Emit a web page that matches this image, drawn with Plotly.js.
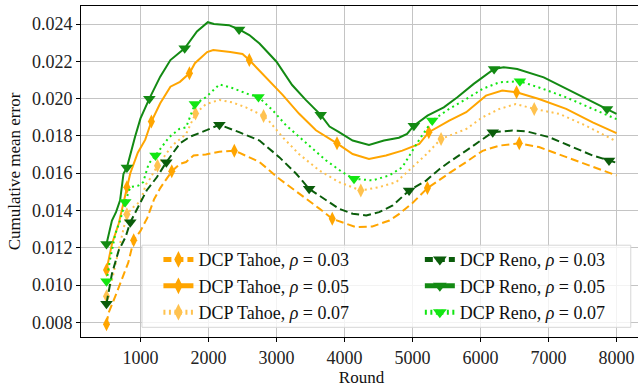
<!DOCTYPE html>
<html>
<head>
<meta charset="utf-8">
<script src="https://cdn.plot.ly/plotly-3.0.1.min.js"></script>
<style>
html,body{margin:0;padding:0;overflow:hidden;background:#fff;}
#chart{width:647px;height:391px;}
</style>
</head>
<body>
<div id="chart"></div>
<script>
// ---- data ----
const tahoe03X = [500,530,630,730,820,900,1000,1100,1200,1290,1460,1580,1670,1780,1960,2160,2380,2450,2750,3040,3190,3330,3530,3630,3820,4020,4170,4410,4660,4800,4900,5000,5220,5390,5540,5790,6030,6280,6570,6860,7260,7650,8000];
const tahoe03Y = [0.0079,0.0085,0.0094,0.0103,0.0112,0.0124,0.0129,0.0136,0.0146,0.0152,0.0161,0.0165,0.0166,0.01695,0.0170,0.01715,0.0172,0.0171,0.0166,0.0157,0.0153,0.0149,0.0144,0.0141,0.01355,0.0133,0.0131,0.01314,0.01346,0.0138,0.01409,0.0144,0.0152,0.0156,0.0160,0.0166,0.0172,0.01748,0.0176,0.0174,0.01686,0.01632,0.01588];
const tahoe03Marks = [500,900,1460,2380,3820,5220,6570];

const tahoe05X = [500,580,680,800,850,960,1070,1160,1290,1440,1580,1720,1800,1980,2070,2320,2500,2600,2840,3090,3330,3580,3890,4120,4360,4610,4850,5100,5240,5540,5790,6080,6320,6530,6860,7260,7650,8000];
const tahoe05Y = [0.0108,0.0122,0.0133,0.01525,0.0160,0.0171,0.0178,0.01877,0.01975,0.02064,0.0209,0.02136,0.0219,0.0225,0.02261,0.0225,0.0224,0.02207,0.02118,0.0202,0.0192,0.0183,0.0176,0.01703,0.01676,0.01695,0.01721,0.01757,0.0182,0.01882,0.01927,0.02016,0.02043,0.02034,0.01998,0.01945,0.01873,0.01815];
const tahoe05Marks = [500,800,1160,1720,2600,3890,5240,6530];

const tahoe07X = [500,580,680,800,900,1000,1080,1140,1250,1470,1670,1810,1960,2160,2350,2550,2810,2890,3090,3330,3630,3920,4240,4510,4760,5000,5200,5420,5790,6030,6280,6520,6790,7160,7550,8000];
const tahoe07Y = [0.0094,0.01025,0.0119,0.0138,0.0142,0.0145,0.0154,0.0157,0.0164,0.0175,0.0181,0.0192,0.0197,0.01993,0.0198,0.01953,0.01907,0.0188,0.01793,0.01703,0.01614,0.01552,0.01507,0.01525,0.01552,0.0163,0.0170,0.01784,0.01837,0.019,0.01945,0.01971,0.01945,0.01918,0.01855,0.0177];
const tahoe07Marks = [500,800,1250,1810,2810,4240,5420,6790];

const reno03X = [500,580,680,780,850,970,1090,1240,1380,1580,1730,1980,2160,2450,2750,3040,3290,3480,3730,3920,4120,4320,4510,4710,4950,5200,5390,5540,5790,6030,6180,6470,6670,7010,7350,7650,7890,8000];
const reno03Y = [0.0090,0.0106,0.01186,0.01257,0.01337,0.01418,0.01507,0.01578,0.01659,0.0176,0.01796,0.01832,0.0186,0.0182,0.01775,0.01686,0.01597,0.01516,0.01454,0.01409,0.01382,0.01373,0.01391,0.01427,0.01507,0.0156,0.0162,0.0166,0.01721,0.01784,0.0182,0.01829,0.01825,0.01793,0.01739,0.01695,0.01668,0.01656];
const reno03Marks = [500,850,1380,2160,3480,4950,6180,7890];

const reno05X = [500,580,640,700,750,800,920,1000,1130,1290,1440,1650,1830,1990,2080,2300,2450,2600,2750,3000,3230,3430,3650,3780,3920,4120,4360,4580,4800,4920,5020,5220,5460,5660,5900,6200,6340,6540,6930,7320,7620,7860,8000];
const reno05Y = [0.0122,0.01346,0.01391,0.01454,0.01597,0.0163,0.01796,0.01894,0.0200,0.02118,0.02207,0.0227,0.0236,0.0241,0.0240,0.02394,0.02371,0.02341,0.02296,0.02198,0.02073,0.01993,0.01913,0.0185,0.0182,0.01775,0.01752,0.01775,0.0179,0.01811,0.01855,0.01909,0.01953,0.02007,0.02079,0.02159,0.02168,0.02159,0.02114,0.02043,0.0199,0.01945,0.01918];
const reno05Marks = [500,800,1130,1650,2450,3650,5020,6200,7860];

const reno07X = [500,550,630,700,775,850,970,1040,1120,1220,1420,1570,1670,1800,1960,2160,2350,2600,2735,2940,3140,3430,3730,3970,4140,4410,4660,4850,5000,5100,5290,5540,5790,6030,6280,6580,6860,7260,7650,8000];
const reno07Y = [0.0102,0.01132,0.01275,0.01346,0.01445,0.01525,0.01534,0.01552,0.0165,0.01695,0.01793,0.01837,0.01846,0.01971,0.02007,0.02076,0.02057,0.02022,0.02009,0.01939,0.01857,0.01766,0.01668,0.01605,0.0157,0.01561,0.01588,0.01632,0.0172,0.0178,0.01882,0.01945,0.01998,0.02052,0.02088,0.02093,0.0206,0.02007,0.01945,0.0189];
const reno07Marks = [500,775,1220,1800,2735,4140,5290,6580];

const seriesNames = [
  'DCP Tahoe, <i>ρ</i> = 0.03', 'DCP Tahoe, <i>ρ</i> = 0.05', 'DCP Tahoe, <i>ρ</i> = 0.07',
  'DCP Reno, <i>ρ</i> = 0.03', 'DCP Reno, <i>ρ</i> = 0.05', 'DCP Reno, <i>ρ</i> = 0.07'
];
const xTicks = [1000,2000,3000,4000,5000,6000,7000,8000];
const yTicks = [0.008,0.010,0.012,0.014,0.016,0.018,0.020,0.022,0.024];

// ---- styling ----
const FONT = 'Liberation Serif, Times New Roman, serif';
function idx(xs, marks){ return marks.map(m => xs.indexOf(m)).filter(i => i >= 0); }
function mk(name, xs, ys, marks, color, dash, symbol, size, leg){
  return {
    type:'scatter', mode:'lines+markers', name:name, x:xs, y:ys, legend:leg,
    line:{color:color, width:2, dash:dash},
    marker:{symbol:symbol, size:size, color:color, line:{width:0}},
    selectedpoints: idx(xs, marks),
    selected:{marker:{opacity:1}},
    unselected:{marker:{opacity:0}},
    cliponaxis:false
  };
}
const ORANGE='#ffa500', LORANGE='#ffc24f', DGREEN='#0b5d0b', GREEN='#138a13', LIME='#12e612';
const data = [
  mk(seriesNames[0], tahoe03X, tahoe03Y, tahoe03Marks, ORANGE, '8px,4px', 'diamond-tall', 10, 'legend'),
  mk(seriesNames[1], tahoe05X, tahoe05Y, tahoe05Marks, ORANGE, 'solid', 'diamond-tall', 10, 'legend'),
  mk(seriesNames[2], tahoe07X, tahoe07Y, tahoe07Marks, LORANGE, '2px,3.5px', 'diamond-tall', 10, 'legend'),
  mk(seriesNames[3], reno03X, reno03Y, reno03Marks, DGREEN, '8px,4px', 'triangle-down', 11, 'legend2'),
  mk(seriesNames[4], reno05X, reno05Y, reno05Marks, GREEN, 'solid', 'triangle-down', 11, 'legend2'),
  mk(seriesNames[5], reno07X, reno07Y, reno07Marks, LIME, '2px,3.5px', 'triangle-down', 11, 'legend2')
];

const legendCommon = {
  orientation:'v', yanchor:'top', xanchor:'left', y:0.2894,
  bgcolor:'rgba(0,0,0,0)', borderwidth:0,
  font:{family:FONT, size:18, color:'#111'}, itemsizing:'constant', traceorder:'normal'
};

const layout = {
  width:647, height:391,
  margin:{l:81, r:5, t:6, b:54},
  paper_bgcolor:'#fff', plot_bgcolor:'#fff',
  font:{family:FONT, size:17, color:'#222'},
  showlegend:true,
  legend:Object.assign({}, legendCommon, {x:0.138}),
  legend2:Object.assign({}, legendCommon, {x:0.604}),
  shapes:[{
    type:'rect', xref:'paper', yref:'paper', layer:'above',
    x0:0.1087, x1:0.980, y0:0.0293, y1:0.2773,
    fillcolor:'rgba(255,255,255,0.8)', line:{color:'#d6d6d6', width:1}
  }],
  xaxis:{
    range:[125,8375], tickvals:xTicks, ticktext:xTicks.map(String),
    showgrid:true, gridcolor:'#c4c4c4', gridwidth:1,
    showline:true, linecolor:'#000', linewidth:1, mirror:true,
    ticks:'outside', ticklen:4, tickcolor:'#000', tickwidth:1,
    zeroline:false, automargin:false, tickfont:{family:FONT, size:18, color:'#222'},
    title:{text:'Round', font:{family:FONT, size:17, color:'#111'}, standoff:4}
  },
  yaxis:{
    range:[0.00721,0.02497], tickvals:yTicks, ticktext:yTicks.map(v => v.toFixed(3)),
    showgrid:true, gridcolor:'#c4c4c4', gridwidth:1,
    showline:true, linecolor:'#000', linewidth:1, mirror:true,
    ticks:'outside', ticklen:4, tickcolor:'#000', tickwidth:1,
    zeroline:false, automargin:false, tickfont:{family:FONT, size:18, color:'#222'},
    title:{text:'Cumulative mean error', font:{family:FONT, size:17, color:'#111'}, standoff:6}
  }
};
Plotly.newPlot('chart', data, layout, {displayModeBar:false, staticPlot:true});
</script>
</body>
</html>
